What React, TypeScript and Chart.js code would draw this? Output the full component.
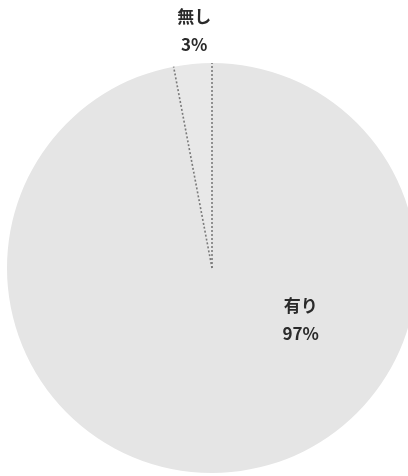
import React, { useEffect, useRef } from "react";
import { Chart, registerables } from "chart.js";

Chart.register(...registerables);

const categories = ["有り", "無し"];
const values = [97, 3];
const valueLabels = ["97%", "3%"];

// label anchors: angle (deg, clockwise from 3 o'clock) and distance as fraction of radius
const labelAnchors = [
  { angle: 30, dist: 0.5 },
  { angle: -94.3, dist: 1.16 },
];

const sliceEdgePlugin = {
  id: "sliceEdges",
  afterDatasetsDraw(chart: any) {
    const ctx = chart.ctx;
    const meta = chart.getDatasetMeta(0);
    ctx.save();
    ctx.strokeStyle = "#7a7a7a";
    ctx.lineWidth = 1.6;
    ctx.setLineDash([2, 2]);
    meta.data.forEach((arc: any) => {
      const { x, y, startAngle, outerRadius } = arc.getProps(
        ["x", "y", "startAngle", "outerRadius"],
        true
      );
      ctx.beginPath();
      ctx.moveTo(x, y);
      ctx.lineTo(x + Math.cos(startAngle) * outerRadius, y + Math.sin(startAngle) * outerRadius);
      ctx.stroke();
    });
    ctx.restore();

    ctx.save();
    ctx.fillStyle = "#2a2a2a";
    ctx.font = "bold 17px 'Noto Sans CJK JP', 'Noto Sans', sans-serif";
    ctx.textAlign = "center";
    ctx.textBaseline = "middle";
    meta.data.forEach((arc: any, i: number) => {
      const { x, y, outerRadius } = arc.getProps(["x", "y", "outerRadius"], true);
      const a = (labelAnchors[i].angle * Math.PI) / 180;
      const lx = x + Math.cos(a) * outerRadius * labelAnchors[i].dist;
      const ly = y + Math.sin(a) * outerRadius * labelAnchors[i].dist;
      ctx.fillText(categories[i], lx, ly - 14);
      ctx.fillText(valueLabels[i], lx, ly + 14);
    });
    ctx.restore();
  },
};

export default function App() {
  const ref = useRef<HTMLCanvasElement>(null);
  useEffect(() => {
    document.body.style.margin = "0";
    const chart = new Chart(ref.current!, {
      type: "pie",
      data: {
        labels: categories,
        datasets: [
          {
            data: values,
            backgroundColor: ["#e5e5e5", "#e8e8e8"],
            borderWidth: 0,
            hoverOffset: 0,
          },
        ],
      },
      options: {
        animation: false,
        responsive: false,
        maintainAspectRatio: false,
        layout: { padding: { left: 7, right: 3, top: 63, bottom: 3 } },
        plugins: {
          legend: { display: false },
          tooltip: { enabled: false },
        },
      },
      plugins: [sliceEdgePlugin],
    });
    return () => chart.destroy();
  }, []);
  return (
    <div
      style={{
        position: "fixed",
        left: 0,
        top: 0,
        width: 408,
        height: 476,
        overflow: "hidden",
        background: "#ffffff",
      }}
    >
      <canvas ref={ref} width={420} height={476} style={{ width: 420, height: 476 }} />
    </div>
  );
}
